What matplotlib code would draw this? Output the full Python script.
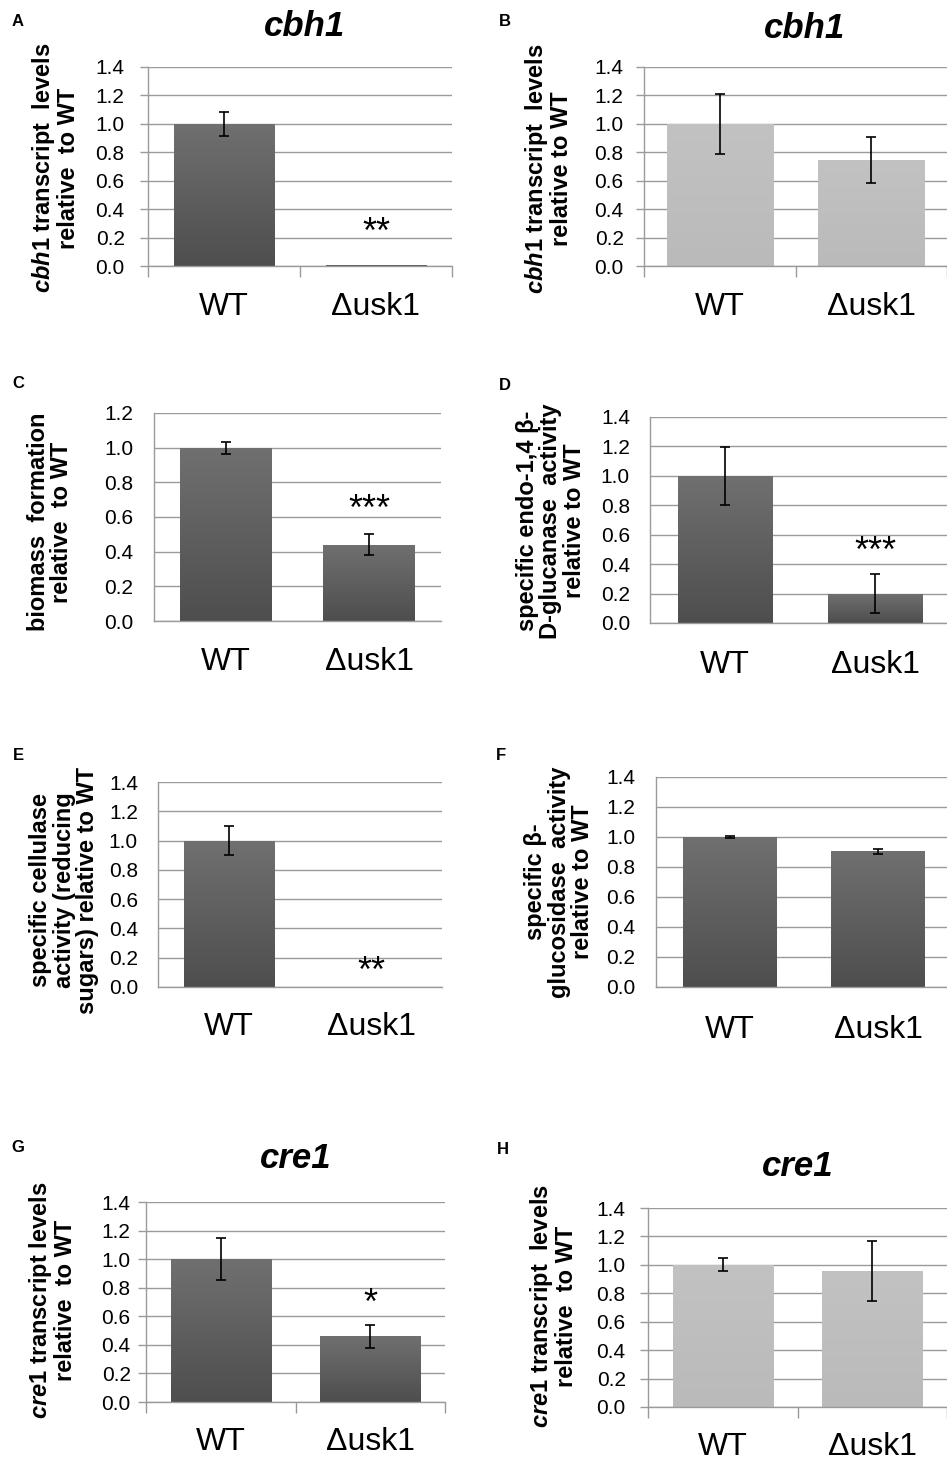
import numpy as np
import matplotlib
matplotlib.use('Agg')
import matplotlib.pyplot as plt
from matplotlib.colors import LinearSegmentedColormap

plt.rcParams['font.family'] = ['Liberation Sans', 'DejaVu Sans']
plt.rcParams['mathtext.fontset'] = 'custom'
plt.rcParams['mathtext.it'] = 'Liberation Sans:italic:bold'
plt.rcParams['mathtext.rm'] = 'Liberation Sans:bold'
plt.rcParams['mathtext.bf'] = 'Liberation Sans:bold'

categories = ['WT', 'Δusk1']

a_values = [1.0, 0.01]
a_errors = [0.085, 0.0]
b_values = [1.0, 0.745]
b_errors = [0.21, 0.16]
c_values = [1.0, 0.44]
c_errors = [0.035, 0.06]
d_values = [1.0, 0.20]
d_errors = [0.195, 0.135]
e_values = [1.0, 0.0]
e_errors = [0.10, 0.0]
f_values = [1.0, 0.905]
f_errors = [0.006, 0.015]
g_values = [1.0, 0.46]
g_errors = [0.145, 0.08]
h_values = [1.0, 0.955]
h_errors = [0.045, 0.21]

yticks_14 = [0.0, 0.2, 0.4, 0.6, 0.8, 1.0, 1.2, 1.4]
yticks_12 = [0.0, 0.2, 0.4, 0.6, 0.8, 1.0, 1.2]

W, H = 947, 1465
fig = plt.figure(figsize=(W / 100, H / 100), dpi=100)

DARK = ('#707070', '#4e4e4e')
LIGHT = ('#c2c2c2', '#bababa')
GRID = '#9a9a9a'


def px_axes(left, right, top, bottom):
    return fig.add_axes([left / W, 1 - bottom / H, (right - left) / W, (bottom - top) / H])


def shade(ax, bars, top_c, bot_c):
    grad = np.linspace(0, 1, 256).reshape(-1, 1)
    cmap = LinearSegmentedColormap.from_list('g', [bot_c, top_c])
    for b in bars:
        x0, y0, w, h = b.get_x(), b.get_y(), b.get_width(), b.get_height()
        if h <= 0:
            continue
        im = ax.imshow(grad, extent=(x0, x0 + w, y0, y0 + h), origin='lower',
                       cmap=cmap, aspect='auto', zorder=b.get_zorder() + 0.1,
                       interpolation='bilinear')
        im.set_clip_path(b)


panels = [
    dict(letter='A', box=(148, 452, 67, 266), xlim=1.5, vals=a_values, errs=a_errors,
         ticks=yticks_14, colors=DARK, width=0.66, title='cbh1', title_xy=(305, 27),
         ylabel='$\\mathit{cbh1}$ transcript  levels\nrelative  to WT', ylabel_xy=(55, 168),
         letter_xy=(18, 22), star='**', star_y=0.23, excel=True, ypad=15, xlab_y=307),
    dict(letter='B', box=(644, 947, 67, 266), xlim=1.455, vals=b_values, errs=b_errors,
         ticks=yticks_14, colors=LIGHT, width=0.70, title='cbh1', title_xy=(805, 28),
         ylabel='$\\mathit{cbh1}$ transcript  levels\nrelative to WT', ylabel_xy=(548, 169),
         letter_xy=(505, 22), star=None, star_y=0, excel=True, ypad=12, xlab_y=307),
    dict(letter='C', box=(154, 441, 413, 621), xlim=1.5, vals=c_values, errs=c_errors,
         ticks=yticks_12, colors=DARK, width=0.64, title=None, title_xy=None,
         ylabel='biomass  formation\nrelative  to WT', ylabel_xy=(50, 522),
         letter_xy=(18, 384), star='***', star_y=0.64, excel=False, ypad=21, xlab_y=662),
    dict(letter='D', box=(650, 947, 417, 623), xlim=1.48, vals=d_values, errs=d_errors,
         ticks=yticks_14, colors=DARK, width=0.63, title=None, title_xy=None,
         ylabel='specific endo-1,4 β-\nD-glucanase  activity\nrelative to WT', ylabel_xy=(551, 521),
         letter_xy=(505, 385), star='***', star_y=0.48, excel=False, ypad=20, xlab_y=665),
    dict(letter='E', box=(158, 442, 782, 987), xlim=1.5, vals=e_values, errs=e_errors,
         ticks=yticks_14, colors=DARK, width=0.64, title=None, title_xy=None,
         ylabel='specific cellulase\nactivity (reducing\nsugars) relative to WT', ylabel_xy=(64, 890),
         letter_xy=(18, 755), star='**', star_y=0.10, excel=False, ypad=20, xlab_y=1027),
    dict(letter='F', box=(656, 947, 777, 987), xlim=1.466, vals=f_values, errs=f_errors,
         ticks=yticks_14, colors=DARK, width=0.63, title=None, title_xy=None,
         ylabel='specific β-\nglucosidase  activity\nrelative to WT', ylabel_xy=(559, 882),
         letter_xy=(501, 755), star=None, star_y=0, excel=False, ypad=21, xlab_y=1030),
    dict(letter='G', box=(146, 445, 1202, 1402), xlim=1.5, vals=g_values, errs=g_errors,
         ticks=yticks_14, colors=DARK, width=0.67, title='cre1', title_xy=(296, 1158),
         ylabel='$\\mathit{cre1}$ transcript levels\nrelative  to WT', ylabel_xy=(52, 1300),
         letter_xy=(18, 1148), star='*', star_y=0.68, excel=True, ypad=7, xlab_y=1442),
    dict(letter='H', box=(648, 947, 1208, 1407), xlim=1.454, vals=h_values, errs=h_errors,
         ticks=yticks_14, colors=LIGHT, width=0.67, title='cre1', title_xy=(798, 1167),
         ylabel='$\\mathit{cre1}$ transcript  levels\nrelative  to WT', ylabel_xy=(553, 1306),
         letter_xy=(503, 1150), star=None, star_y=0, excel=True, ypad=14, xlab_y=1447),
]

for p in panels:
    left, right, top, bottom = p['box']
    ax = px_axes(left, right, top, bottom)
    x = np.arange(len(categories))
    vals = np.array(p['vals'])
    errs = np.array(p['errs'])
    bars = ax.bar(x, vals, width=p['width'], color=p['colors'][1], zorder=2)
    shade(ax, bars, *p['colors'])
    has_err = errs > 0
    ax.errorbar(x[has_err], vals[has_err], yerr=errs[has_err], fmt='none', ecolor='black',
                elinewidth=1.2, capsize=3.5, capthick=1.2, zorder=4)
    ax.set_xlim(-0.5, p['xlim'])
    ax.set_ylim(0, p['ticks'][-1])
    ax.set_yticks(p['ticks'])
    ax.set_yticklabels([f'{t:.1f}' for t in p['ticks']], fontsize=15)
    ax.yaxis.grid(True, color=GRID, lw=1.0, zorder=0)
    ax.set_axisbelow(True)
    for s in ['top', 'right']:
        ax.spines[s].set_visible(False)
    for s in ['left', 'bottom']:
        ax.spines[s].set_color(GRID)
        ax.spines[s].set_linewidth(1.0)
    ax.set_xticks(x)
    ax.set_xticklabels(categories, fontsize=23)
    if p['excel']:
        ax.tick_params(axis='y', length=6, color=GRID, width=1.0, pad=p['ypad'] * 0.72)
        ax.set_xticks([-0.5, 0.5, 1.5], minor=True)
        ax.tick_params(axis='x', which='minor', length=8, color=GRID, width=1.0)
    else:
        ax.tick_params(axis='y', length=0, pad=p['ypad'] * 0.72)
    for lbl in ax.get_xticklabels():
        lbl.set_verticalalignment('center')
    ax.tick_params(axis='x', which='major', length=0, pad=(p['xlab_y'] - bottom) * 0.72)
    if p['star']:
        ax.text(1, p['star_y'], p['star'], ha='center', va='center', fontsize=26,
                zorder=5)
    if p['title']:
        fig.text(p['title_xy'][0] / W, 1 - p['title_xy'][1] / H, p['title'],
                 fontsize=25, fontweight='bold', fontstyle='italic',
                 ha='center', va='center')
    fig.text(p['ylabel_xy'][0] / W, 1 - p['ylabel_xy'][1] / H, p['ylabel'],
             fontsize=17, fontweight='bold', rotation=90, ha='center', va='center',
             multialignment='center', linespacing=1.05)
    fig.text(p['letter_xy'][0] / W, 1 - p['letter_xy'][1] / H, p['letter'],
             fontsize=12, fontweight='bold', ha='center', va='center')

fig.savefig('out.png', dpi=100)
